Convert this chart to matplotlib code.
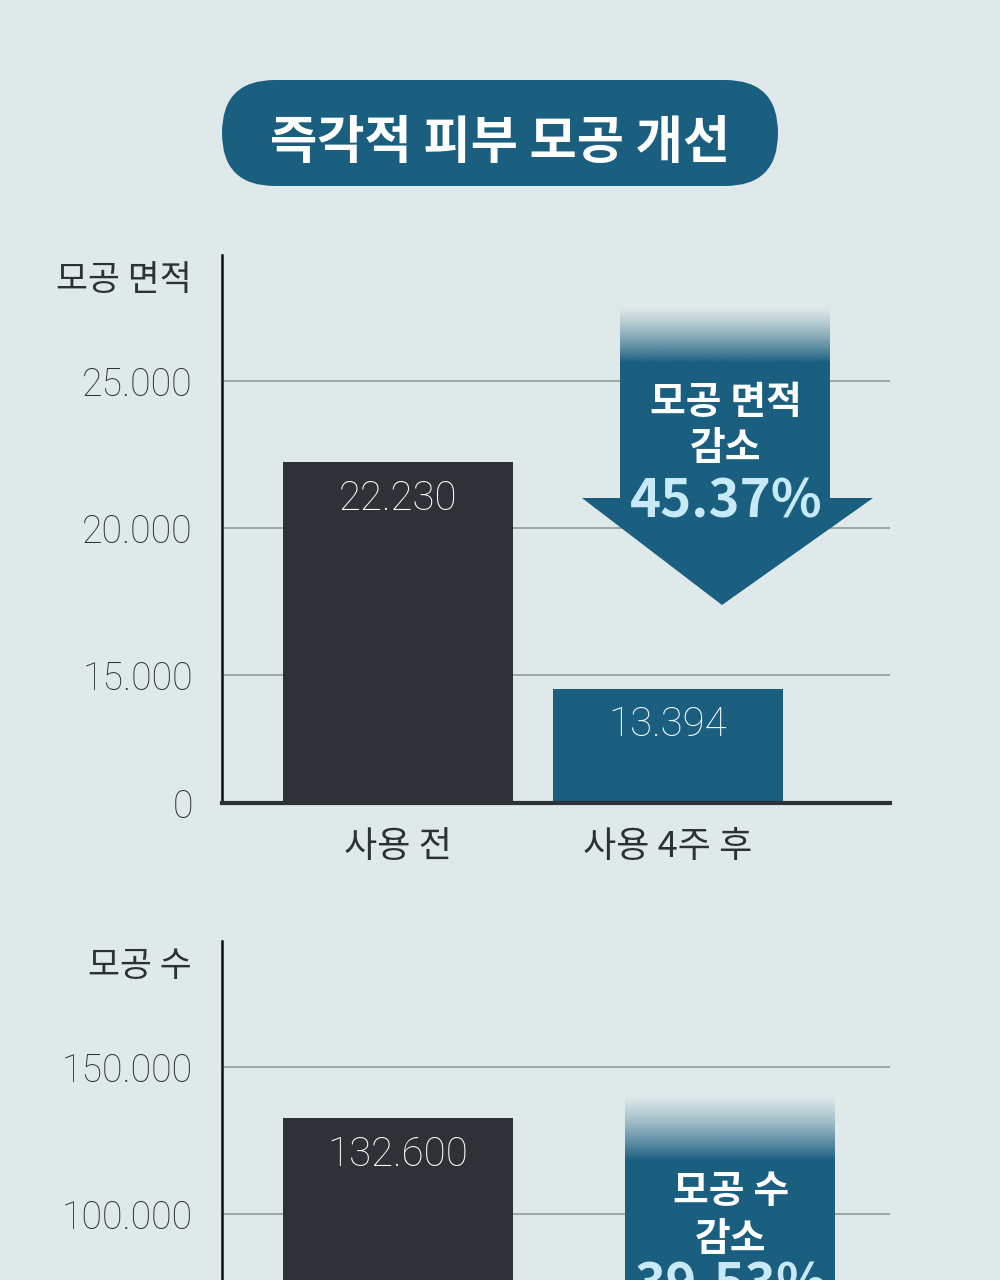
import numpy as np
import matplotlib
matplotlib.use("Agg")
import matplotlib.pyplot as plt
from matplotlib.patches import FancyBboxPatch, Polygon

plt.rcParams['font.family'] = ['Noto Sans CJK KR', 'DejaVu Sans']
NUMFONT = ['Roboto', 'Noto Sans CJK KR', 'DejaVu Sans']

# ---------------- data ----------------
title = "즉각적 피부 모공 개선"
categories = ["사용 전", "사용 4주 후"]

area_label = "모공 면적"
area_values = [22230, 13394]
area_ticks = [0, 15000, 20000, 25000]
area_callout = ["모공 면적", "감소", "45.37%"]

count_label = "모공 수"
count_values = [132600]          # only the "before" bar is visible in the crop
count_ticks = [100000, 150000]
count_callout = ["모공 수", "감소", "39.53%"]

# ---------------- style ----------------
BG = "#e0e9e9"
DARK = "#2e3236"
BLUE = "#1a5f80"
LIGHTBLUE = "#c8eaf8"
TXT = "#2c3136"
GRID = "#9ea6a6"
W, H = 1000, 1280

fig = plt.figure(figsize=(W / 100, H / 100), dpi=100, facecolor=BG)


def px_axes(left, top, right, bottom):
    return fig.add_axes([left / W, 1 - bottom / H, (right - left) / W, (bottom - top) / H])


def fmt(v):
    return f"{v:,}".replace(",", ".")


def style_axes(ax):
    ax.set_facecolor("none")
    ax.set_axisbelow(True)
    ax.grid(axis="y", color=GRID, lw=1.4)
    ax.grid(axis="x", visible=False)
    for s in ("top", "right"):
        ax.spines[s].set_visible(False)
    ax.spines["left"].set_color("#111111")
    ax.spines["left"].set_linewidth(1.8)
    ax.spines["bottom"].set_color(DARK)
    ax.spines["bottom"].set_linewidth(3)
    ax.tick_params(axis="y", length=0, pad=21, labelsize=27, labelcolor=TXT)
    ax.tick_params(axis="x", length=0, pad=19, labelsize=26, labelcolor=TXT)


bar_colors = [DARK, BLUE]
XLIM = (-0.652, 1.822)
BAR_W = 0.852

# ---------- chart 1 : pore area (broken scale between 0 and 15.000) ----------
ax1 = px_axes(222, 255, 890, 803)
STEP = 147.0   # pixels per 5.000
GAP = 128.0    # pixels from 0 to 15.000
vals_anchor = np.array([-15000, 0, 15000, 45000])
pos_anchor = np.array([-GAP, 0, GAP, GAP + 6 * STEP])
fwd = lambda v: np.interp(v, vals_anchor, pos_anchor)
inv = lambda p: np.interp(p, pos_anchor, vals_anchor)
ax1.set_yscale("function", functions=(fwd, inv))
ax1.set_ylim(0, float(inv(548)))
ax1.set_xlim(*XLIM)
style_axes(ax1)
x1 = np.arange(len(area_values))
ax1.bar(x1, area_values, width=BAR_W, color=bar_colors[:len(area_values)], zorder=2)
ax1.set_yticks(area_ticks)
ax1.set_yticklabels([fmt(t) for t in area_ticks])
ax1.set_xticks(np.arange(len(categories)))
ax1.set_xticklabels(categories)
for i, v in enumerate(area_values):
    ax1.annotate(fmt(v), xy=(i, v), xytext=(0, -26), textcoords="offset points",
                 ha="center", va="center", color="white", fontsize=29, fontweight="light",
                 family=NUMFONT, zorder=3)

# ---------- chart 2 : pore count ----------
ax2 = px_axes(222, 941, 890, 1280)
ax2.set_ylim(100000 - 66 / STEP * 50000, 150000 + 126 / STEP * 50000)
ax2.set_xlim(*XLIM)
style_axes(ax2)
ax2.spines["bottom"].set_visible(False)
x2 = np.arange(len(count_values))
ax2.bar(x2, count_values, width=BAR_W, color=bar_colors[:len(count_values)], zorder=2)
ax2.set_yticks(count_ticks)
ax2.set_yticklabels([fmt(t) for t in count_ticks])
ax2.set_xticks([])
for i, v in enumerate(count_values):
    ax2.annotate(fmt(v), xy=(i, v), xytext=(0, -26), textcoords="offset points",
                 ha="center", va="center", color="white", fontsize=29, fontweight="light",
                 family=NUMFONT, zorder=3)

for ax in (ax1, ax2):
    for lbl in ax.get_yticklabels():
        lbl.set_fontweight("light")
        lbl.set_family(NUMFONT)
    for lbl in ax.get_xticklabels():
        lbl.set_fontweight("light")

# ---------- overlay: title pill, axis titles, arrows ----------
ov = fig.add_axes([0, 0, 1, 1])
ov.set_xlim(0, W)
ov.set_ylim(H, 0)
ov.axis("off")
ov.set_zorder(10)

ov.add_patch(FancyBboxPatch((222, 80), 556, 106, boxstyle="round,pad=0,rounding_size=53",
                            fc=BLUE, ec="none"))
ov.text(500, 158, title, ha="center", va="baseline", fontsize=37, fontweight="bold", color="white")

ov.text(192, 290, area_label, ha="right", va="baseline", fontsize=25, color=TXT, fontweight="light")
ov.text(192, 976, count_label, ha="right", va="baseline", fontsize=25, color=TXT, fontweight="light")


def gradient(ax, x0, x1, ytop, ybot):
    n = 128
    t = np.linspace(0, 1, n)
    rgba = np.zeros((n, 1, 4))
    rgba[:, 0, :3] = matplotlib.colors.to_rgb(BLUE)
    rgba[:, 0, 3] = t ** 1.3
    ax.imshow(rgba, extent=(x0, x1, ybot, ytop), origin="upper", aspect="auto",
              interpolation="bilinear", zorder=1)


def arrow(ax, x0, x1, ytop, ysolid, yhead, hx0, hx1, tipx, ytip, lines, baselines, cx):
    gradient(ax, x0, x1, ytop, ysolid + 1)
    pts = [(x0, ysolid), (x1, ysolid), (x1, yhead), (hx1, yhead), (tipx, ytip),
           (hx0, yhead), (x0, yhead)]
    ax.add_patch(Polygon(pts, closed=True, fc=BLUE, ec="none", zorder=2))
    ax.text(cx, baselines[0], lines[0], ha="center", va="baseline", fontsize=28,
            fontweight="bold", color="white", zorder=3)
    ax.text(cx, baselines[1], lines[1], ha="center", va="baseline", fontsize=28,
            fontweight="bold", color="white", zorder=3)
    ax.text(cx, baselines[2], lines[2], ha="center", va="baseline", fontsize=38,
            fontweight="bold", color=LIGHTBLUE, zorder=3)


arrow(ov, 620, 830, 305, 362, 498, 582, 873, 722, 605, area_callout, (414, 460, 517), 726)
arrow(ov, 625, 835, 1093, 1160, 1500, 587, 878, 730, 1600, count_callout, (1203, 1251, 1302), 731)
ov.set_xlim(0, W)
ov.set_ylim(H, 0)

fig.savefig("out.png", dpi=100, facecolor=BG)
